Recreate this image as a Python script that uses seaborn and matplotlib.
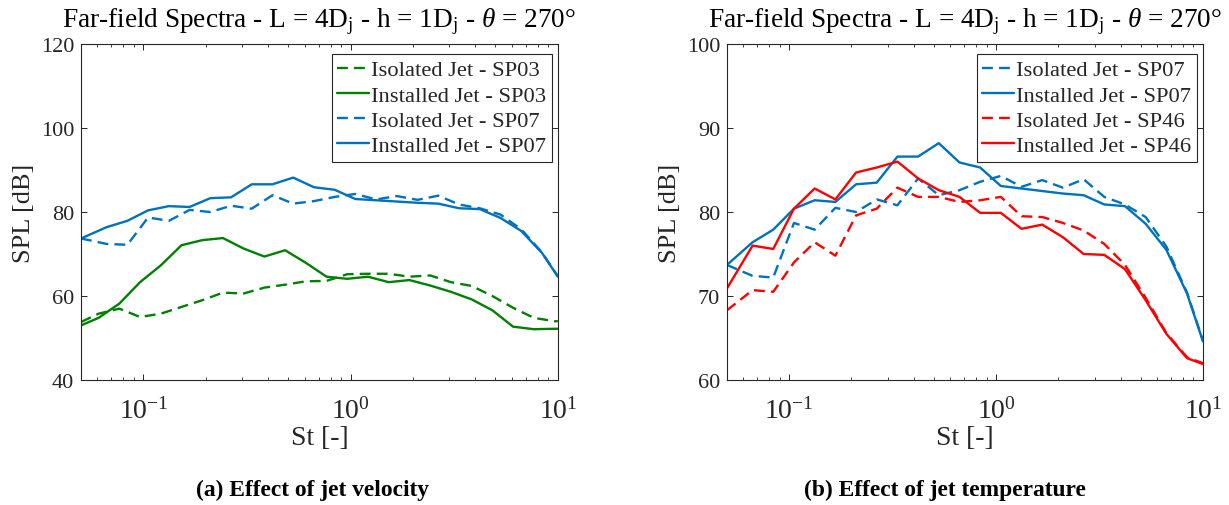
import numpy as np
import pandas as pd
import seaborn as sns
import matplotlib.pyplot as plt

# Strouhal numbers (1/3 octave bands, clipped to axis range at the ends)
st_sp07 = [0.05, 0.0665, 0.0837, 0.1054, 0.1327, 0.1671, 0.2104, 0.2649, 0.3334, 0.4198,
           0.5284, 0.6653, 0.8375, 1.054, 1.327, 1.671, 2.104, 2.649, 3.334, 4.198,
           5.284, 6.653, 8.375, 10.0]
st_sp03 = [0.05, 0.0608, 0.0766, 0.0964, 0.1214, 0.1528, 0.1923, 0.2421, 0.3048, 0.3837,
           0.4831, 0.6081, 0.7656, 0.9638, 1.213, 1.527, 1.923, 2.421, 3.048, 3.837,
           4.831, 6.081, 7.656, 9.638, 10.0]

spl_iso_sp03 = [53.8, 55.8, 57.0, 55.0, 55.8, 57.4, 59.0, 60.8, 60.6, 62.0,
                62.7, 63.5, 63.6, 65.2, 65.3, 65.3, 64.6, 64.9, 63.3, 62.4,
                60.0, 57.2, 54.8, 54.0, 54.0]
spl_ins_sp03 = [53.0, 54.8, 58.2, 63.3, 67.3, 72.1, 73.3, 73.8, 71.3, 69.4,
                70.9, 67.9, 64.6, 64.1, 64.6, 63.3, 63.8, 62.5, 61.0, 59.2,
                56.6, 52.7, 52.1, 52.2, 52.2]
spl_iso_sp07 = [73.7, 72.4, 72.2, 78.7, 77.9, 80.5, 80.0, 81.5, 80.8, 84.0,
                82.0, 82.6, 83.6, 84.3, 83.0, 83.8, 82.9, 83.9, 81.8, 80.9,
                79.4, 75.9, 70.4, 64.7]
spl_ins_sp07 = [73.7, 76.4, 77.9, 80.4, 81.4, 81.2, 83.3, 83.5, 86.6, 86.6,
                88.2, 85.9, 85.3, 83.1, 82.8, 82.5, 82.2, 82.0, 80.9, 80.7,
                78.6, 75.5, 70.3, 64.6]
spl_iso_sp46 = [68.3, 70.7, 70.5, 74.0, 76.4, 74.8, 79.6, 80.4, 82.9, 81.8,
                81.8, 81.2, 81.4, 81.8, 79.5, 79.4, 78.7, 77.8, 76.2, 73.7,
                69.8, 65.6, 62.7, 62.0]
spl_ins_sp46 = [70.9, 76.0, 75.6, 80.4, 82.8, 81.5, 84.7, 85.3, 86.0, 84.0,
                82.6, 81.8, 79.9, 79.9, 78.0, 78.5, 77.0, 75.0, 74.9, 73.2,
                69.5, 65.5, 62.6, 61.9]

sns.set_theme(style="ticks")
plt.rcParams["font.family"] = ["Liberation Serif", "DejaVu Serif"]
plt.rcParams.update({
    "mathtext.fontset": "custom",
    "mathtext.rm": "Liberation Serif",
    "mathtext.it": "Liberation Serif:italic",
    "mathtext.bf": "Liberation Serif:bold",
    "axes.unicode_minus": False,
    "xtick.direction": "in",
    "ytick.direction": "in",
    "xtick.top": True,
    "ytick.right": True,
    "xtick.major.size": 4.5,
    "xtick.minor.size": 2.5,
    "ytick.major.size": 4.5,
    "xtick.major.width": 0.7,
    "xtick.minor.width": 0.6,
    "ytick.major.width": 0.7,
    "xtick.color": "#262626",
    "ytick.color": "#262626",
    "axes.edgecolor": "#262626",
    "axes.linewidth": 0.8,
})

blue = "#0072BD"
green = "#008000"
red = "#FF0000"
dash = (0, (4.6, 2.6))
title = r"Far-field Spectra - L = 4D$_\mathrm{j}$ - h = 1D$_\mathrm{j}$ - $\theta$ = 270°"

fig = plt.figure(figsize=(12.29, 5.06), dpi=100)
ax1 = fig.add_axes([0.0659, 0.247, 0.388, 0.664])
ax2 = fig.add_axes([0.5915, 0.247, 0.3873, 0.664])

series1 = [
    (st_sp03, spl_iso_sp03, green, dash, "Isolated Jet - SP03"),
    (st_sp03, spl_ins_sp03, green, "-", "Installed Jet - SP03"),
    (st_sp07, spl_iso_sp07, blue, dash, "Isolated Jet - SP07"),
    (st_sp07, spl_ins_sp07, blue, "-", "Installed Jet - SP07"),
]
series2 = [
    (st_sp07, spl_iso_sp07, blue, dash, "Isolated Jet - SP07"),
    (st_sp07, spl_ins_sp07, blue, "-", "Installed Jet - SP07"),
    (st_sp07, spl_iso_sp46, red, dash, "Isolated Jet - SP46"),
    (st_sp07, spl_ins_sp46, red, "-", "Installed Jet - SP46"),
]

for ax, series, ylim, yticks in [(ax1, series1, (40, 120), [40, 60, 80, 100, 120]),
                                  (ax2, series2, (60, 100), [60, 70, 80, 90, 100])]:
    ax.set_xscale("log")
    for x, y, c, ls, lab in series:
        df = pd.DataFrame({"St": x, "SPL": y})
        sns.lineplot(data=df, x="St", y="SPL", ax=ax, color=c, linestyle=ls,
                     linewidth=1.7, label=lab, sort=False)
    ax.set_xlim(0.05, 10)
    ax.set_ylim(*ylim)
    ax.set_yticks(yticks)
    ax.tick_params(axis="x", which="major", labelsize=20, pad=12, colors="#262626")
    ax.tick_params(axis="y", labelsize=16, pad=5, colors="#262626")
    for s in ax.spines.values():
        s.set_visible(True)
    ax.set_xlabel("St [-]", fontsize=20, color="#262626", labelpad=1)
    ax.set_ylabel("SPL [dB]", fontsize=19, color="#262626", labelpad=4)
    ax.set_title(title, fontsize=19.6, color="black", pad=13)
    leg = ax.legend(loc="upper right", bbox_to_anchor=(0.987, 0.97), fontsize=16.2,
                    frameon=True, fancybox=False, edgecolor="#262626", framealpha=1,
                    handlelength=1.4, handletextpad=0.1, labelspacing=0.2,
                    borderpad=0.25, borderaxespad=0)
    leg.get_frame().set_linewidth(0.8)

fig.text(0.254, 0.031, "(a) Effect of jet velocity", fontsize=16.9, fontweight="bold",
         ha="center", va="center", color="black")
fig.text(0.769, 0.031, "(b) Effect of jet temperature", fontsize=16.9, fontweight="bold",
         ha="center", va="center", color="black")

plt.savefig("out.png", dpi=100)
